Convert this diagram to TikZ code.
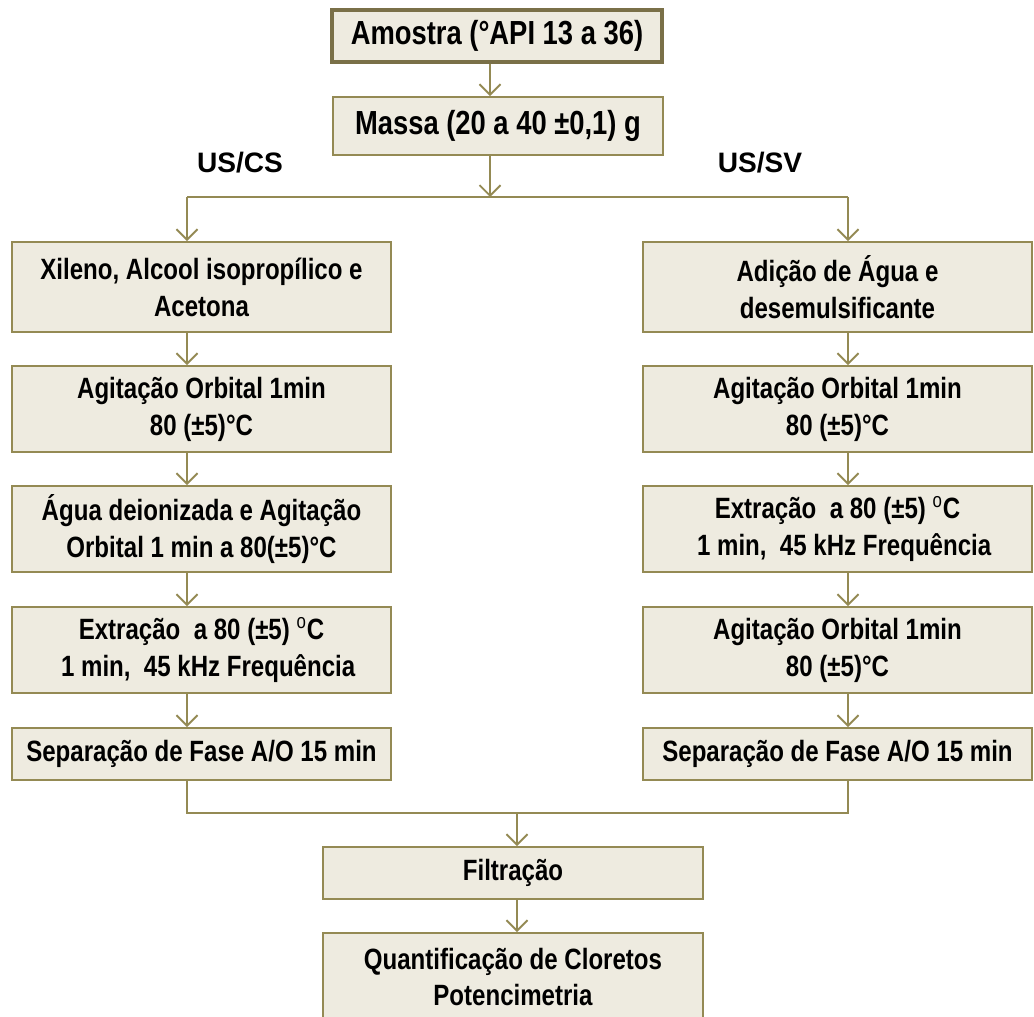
\documentclass[tikz,border=0pt]{standalone}
\usepackage{fontspec}
\setmainfont[FakeStretch=0.82]{Liberation Sans}
\newfontfamily\widefont{Liberation Sans}
\usetikzlibrary{arrows.meta, positioning, calc}
\definecolor{BoxFill}{HTML}{EEEBE0}
\definecolor{Olive}{HTML}{948A54}
\definecolor{DarkOlive}{HTML}{7A7048}

\newcommand{\dego}{\textsuperscript{\mdseries o}}

\tikzset{
    stepbox/.style={rectangle, draw=Olive, fill=BoxFill, line width=1.1pt,
                    align=center, inner sep=0pt,
                    font=\fontsize{16.7}{21}\selectfont\bfseries},
    topbox/.style={stepbox, font=\fontsize{19}{22}\selectfont\bfseries},
    link/.style={draw=Olive, line width=1.1pt},
    arr/.style={link, -{Straight Barb[length=6pt, width=12pt, line width=1.1pt]}},
    branch/.style={font=\widefont\fontsize{16}{19}\selectfont\bfseries}
}

\begin{document}
\begin{tikzpicture}[x=0.02cm, y=-0.02cm]
    \useasboundingbox (0,0) rectangle (1034,1017);

    % Top of the flow
    \node[topbox, draw=DarkOlive, line width=2pt, minimum width=6.6cm, minimum height=1.04cm]
        (amostra) at (497,36) {Amostra (°API 13 a 36)};
    \node[topbox, minimum width=6.6cm, minimum height=1.16cm]
        (massa) at (498,126) {Massa (20 a 40 ±0,1) g};

    \node[branch] (uscs) at (240,163) {US/CS};
    \node[branch] (ussv) at (760,163) {US/SV};

    % Left branch
    \node[stepbox, minimum width=7.58cm, minimum height=1.8cm] (l1) at (201.5,287)
        {Xileno, Alcool isopropílico e\\Acetona};
    \node[stepbox, minimum width=7.58cm, minimum height=1.72cm] (l2) at (201.5,409)
        {Agitação Orbital 1min\\80 (±5)°C};
    \node[stepbox, minimum width=7.58cm, minimum height=1.72cm] (l3) at (201.5,529)
        {Água deionizada e Agitação\\Orbital 1 min a 80(±5)°C};
    \node[stepbox, minimum width=7.58cm, minimum height=1.72cm] (l4) at (201.5,650)
        {Extração~~a 80 (±5) \dego C\\~~1 min,~~45 kHz Frequência};
    \node[stepbox, minimum width=7.58cm, minimum height=1.04cm] (l5) at (201.5,754)
        {Separação de Fase A/O 15 min};

    % Right branch
    \node[stepbox, minimum width=7.78cm, minimum height=1.8cm] (r1) at (837.5,287)
        {Adição de Água e\\desemulsificante};
    \node[stepbox, minimum width=7.78cm, minimum height=1.72cm] (r2) at (837.5,409)
        {Agitação Orbital 1min\\80 (±5)°C};
    \node[stepbox, minimum width=7.78cm, minimum height=1.72cm] (r3) at (837.5,529)
        {Extração~~a 80 (±5) \dego C\\~~1 min,~~45 kHz Frequência};
    \node[stepbox, minimum width=7.78cm, minimum height=1.72cm] (r4) at (837.5,650)
        {Agitação Orbital 1min\\80 (±5)°C};
    \node[stepbox, minimum width=7.78cm, minimum height=1.04cm] (r5) at (837.5,754)
        {Separação de Fase A/O 15 min};

    % Bottom of the flow
    \node[stepbox, minimum width=7.6cm, minimum height=1.04cm] (filtr) at (513,873)
        {Filtração};
    \node[stepbox, minimum width=7.6cm, minimum height=1.76cm] (quant) at (513,977)
        {Quantificação de Cloretos\\Potencimetria};

    % Split and merge points
    \coordinate (split) at (490,197);
    \coordinate (lc) at (187,197);
    \coordinate (rc) at (848,197);
    \coordinate (merge) at (517,813);

    % Connectors
    \draw[arr] (amostra.south -| split) -- (massa.north -| split);
    \draw[arr] (massa.south -| split) -- (split);
    \draw[link] (lc) -- (rc);
    \draw[arr] (lc) -- (l1.north -| lc);
    \draw[arr] (rc) -- (r1.north -| rc);
    \foreach \a/\b in {l1/l2, l2/l3, l3/l4, l4/l5} {
        \draw[arr] (\a.south -| lc) -- (\b.north -| lc);
    }
    \foreach \a/\b in {r1/r2, r2/r3, r3/r4, r4/r5} {
        \draw[arr] (\a.south -| rc) -- (\b.north -| rc);
    }
    \draw[link] (l5.south -| lc) -- (lc |- merge) -- (rc |- merge) -- (r5.south -| rc);
    \draw[arr] (merge) -- (filtr.north -| merge);
    \draw[arr] (filtr.south -| merge) -- (quant.north -| merge);
\end{tikzpicture}
\end{document}
